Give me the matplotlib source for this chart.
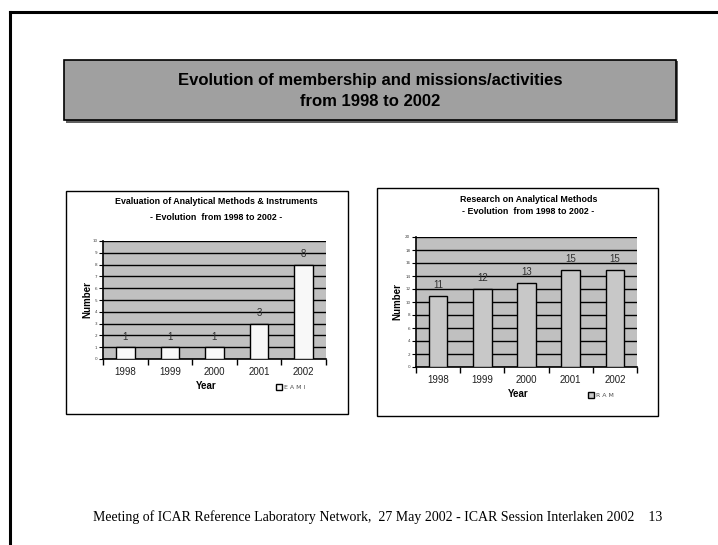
import matplotlib.pyplot as plt
from matplotlib.patches import Rectangle
from matplotlib.lines import Line2D
import numpy as np

years = ['1998', '1999', '2000', '2001', '2002']
eami = [1, 1, 1, 3, 8]
ram = [11, 12, 13, 15, 15]

W, H = 718, 545


def fx(x):
    return x / W


def fy(y):
    return 1 - y / H


fig = plt.figure(figsize=(7.18, 5.45), dpi=100)
fig.patch.set_facecolor('white')

# slide border (top and left)
fig.add_artist(Line2D([fx(10), 1.0], [fy(12), fy(12)], color='black', lw=2.2))
fig.add_artist(Line2D([fx(10), fx(10)], [fy(12), 0.0], color='black', lw=2.2))

# title box with shadow
fig.add_artist(Rectangle((fx(66), fy(123)), fx(612), (123 - 60) / H - 0.001,
                         facecolor='#606060', edgecolor='none'))
fig.add_artist(Rectangle((fx(64), fy(120)), fx(612), 60 / H,
                         facecolor='#a0a0a0', edgecolor='black', lw=1.2))
fig.text(fx(370), fy(81), 'Evolution of membership and missions/activities',
         ha='center', va='center', fontsize=12, fontweight='bold',
         family='Liberation Sans')
fig.text(fx(370), fy(102), 'from 1998 to 2002',
         ha='center', va='center', fontsize=12, fontweight='bold',
         family='Liberation Sans')

# chart frames, kept behind the axes
fig.add_artist(Rectangle((fx(66), fy(414)), fx(282), 223 / H,
                         facecolor='white', edgecolor='black', lw=1.0, zorder=-1))
fig.add_artist(Rectangle((fx(377), fy(416)), fx(281), 228 / H,
                         facecolor='white', edgecolor='black', lw=1.0, zorder=-1))


def bar_chart(rect, vals, ymax, ystep, bar_color, t1, t2, title_y, lab_y, leg_xy, leg_text, num_x):
    left, top, right, bottom = rect
    ax = fig.add_axes([fx(left), fy(bottom), (right - left) / W, (bottom - top) / H])
    ax.set_facecolor('#c0c0c0')
    x = np.arange(len(years))
    bars = ax.bar(x, vals, width=0.42, color=bar_color, edgecolor='black', lw=1.0,
                  zorder=3, label=leg_text)
    for xi, v in zip(x, vals):
        ax.annotate(str(v), (xi, v), xytext=(0, 4), textcoords='offset points',
                    ha='center', va='bottom', fontsize=7,
                    family='Liberation Sans', color='#303030', zorder=4)
    ax.set_xlim(-0.5, len(years) - 0.5)
    ax.set_ylim(0, ymax)
    ax.set_yticks(np.arange(0, ymax + 1, ystep))
    ax.yaxis.grid(True, color='black', lw=1.0, zorder=1)
    ax.set_axisbelow(True)
    ax.set_xticks(x)
    ax.set_xticklabels(years, fontsize=7, family='Liberation Sans', color='#202020')
    ax.set_xticks(np.arange(-0.5, len(years)), minor=True)
    ax.tick_params(axis='x', which='major', length=0, pad=6)
    ax.tick_params(axis='x', which='minor', length=4, width=1, direction='out')
    ax.tick_params(axis='y', labelsize=3, length=3, width=0.8, pad=1, labelcolor='#404040')
    for s in ['top', 'right']:
        ax.spines[s].set_visible(False)
    for s in ['left', 'bottom']:
        ax.spines[s].set_linewidth(1.2)
    cx = (left + right) / 2 + 2
    fig.text(fx(cx), fy(title_y[0]), t1, ha='center', va='center', fontsize=6.4,
             fontweight='bold', family='Liberation Sans')
    fig.text(fx(cx), fy(title_y[1]), t2, ha='center', va='center', fontsize=6.4,
             fontweight='bold', family='Liberation Sans')
    fig.text(fx(cx - 10), fy(lab_y), 'Year', ha='center', va='center', fontsize=7,
             fontweight='bold', family='Liberation Sans')
    fig.text(fx(num_x), fy((top + bottom) / 2), 'Number', ha='center', va='center',
             fontsize=7, fontweight='bold', rotation=90, family='Liberation Sans')
    leg = fig.legend(handles=[bars], labels=[leg_text], loc='center left',
                     bbox_to_anchor=(fx(leg_xy[0]), fy(leg_xy[1])),
                     bbox_transform=fig.transFigure, frameon=False,
                     fontsize=4.5, handlelength=1.0, handleheight=1.0,
                     handletextpad=0.2, borderpad=0, borderaxespad=0)
    for t in leg.get_texts():
        t.set_color('#505050')
    return ax


bar_chart((103, 241, 326, 359), eami, 10, 1, '#f8f8f8',
          'Evaluation of Analytical Methods & Instruments',
          '- Evolution  from 1998 to 2002 -',
          (202, 217), 386, (276, 387), 'E A M I', 87)

bar_chart((416, 237, 637, 367), ram, 20, 2, '#c8c8c8',
          'Research on Analytical Methods',
          '- Evolution  from 1998 to 2002 -',
          (200, 212), 394, (588, 395), 'R A M', 397)

fig.text(fx(93), fy(517), 'Meeting of ICAR Reference Laboratory Network,  27 May 2002 - ICAR Session Interlaken 2002    13',
         ha='left', va='center', fontsize=10, family='Liberation Serif')

fig.savefig('out.png', dpi=100)
